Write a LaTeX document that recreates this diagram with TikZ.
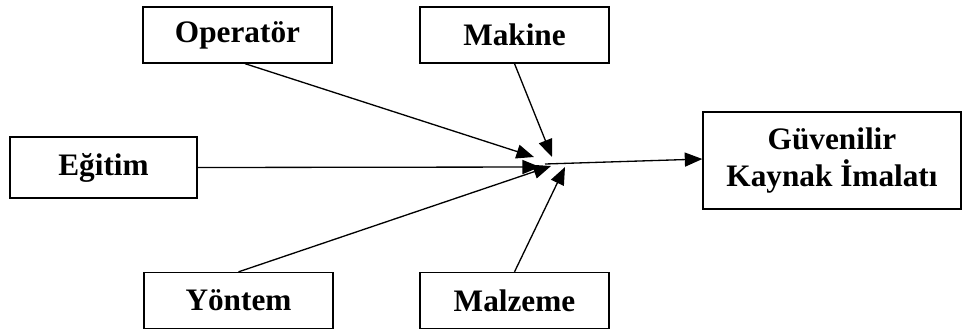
\documentclass[tikz,border=0pt]{standalone}
\usepackage{fontspec}
\setmainfont{Liberation Serif}
\usetikzlibrary{arrows.meta}
\tikzstyle{factor} = [rectangle, minimum width=3.78cm, minimum height=1.12cm, text centered, draw=black, line width=0.75pt, font=\fontsize{17.8}{21.6}\selectfont\bfseries]
\tikzstyle{result} = [rectangle, minimum width=5.16cm, minimum height=1.94cm, align=center, draw=black, line width=0.75pt, font=\fontsize{17.8}{21.6}\selectfont\bfseries]
\tikzstyle{arrow} = [line width=0.75pt, -{Triangle[length=10pt,width=8pt]}]

\begin{document}
\begin{tikzpicture}[x=0.02cm, y=-0.02cm]
    \useasboundingbox (0,0) rectangle (963,329);
    \node (op) [factor] at (237.5,35) {Operatör};
    \node (mk) [factor] at (514.5,35) {Makine};
    \node (eg) [factor, minimum width=3.74cm, minimum height=1.22cm] at (103.5,167.5) {Eğitim};
    \node (yt) [factor] at (238.5,300.5) {Yöntem};
    \node (mz) [factor] at (514.5,300.5) {Malzeme};
    \node (res) [result] at (832,160.5) {Güvenilir\\Kaynak İmalatı};

    % arrow tips around the meeting point
    \coordinate (tOp) at (534,157);
    \coordinate (tMk) at (552,157);
    \coordinate (tEg) at (540,167);
    \coordinate (tYt) at (551,166);
    \coordinate (tMz) at (565,167);
    \coordinate (hub) at (545,164);

    \draw [arrow] ([xshift=0.15cm]op.south) -- (tOp);
    \draw [arrow] (mk.south) -- (tMk);
    \draw [arrow] (eg.east) -- (tEg);
    \draw [arrow] (yt.north) -- (tYt);
    \draw [arrow] (mz.north) -- (tMz);
    \draw [arrow] (hub) -- ([yshift=0.03cm]res.west);

\end{tikzpicture}
\end{document}
